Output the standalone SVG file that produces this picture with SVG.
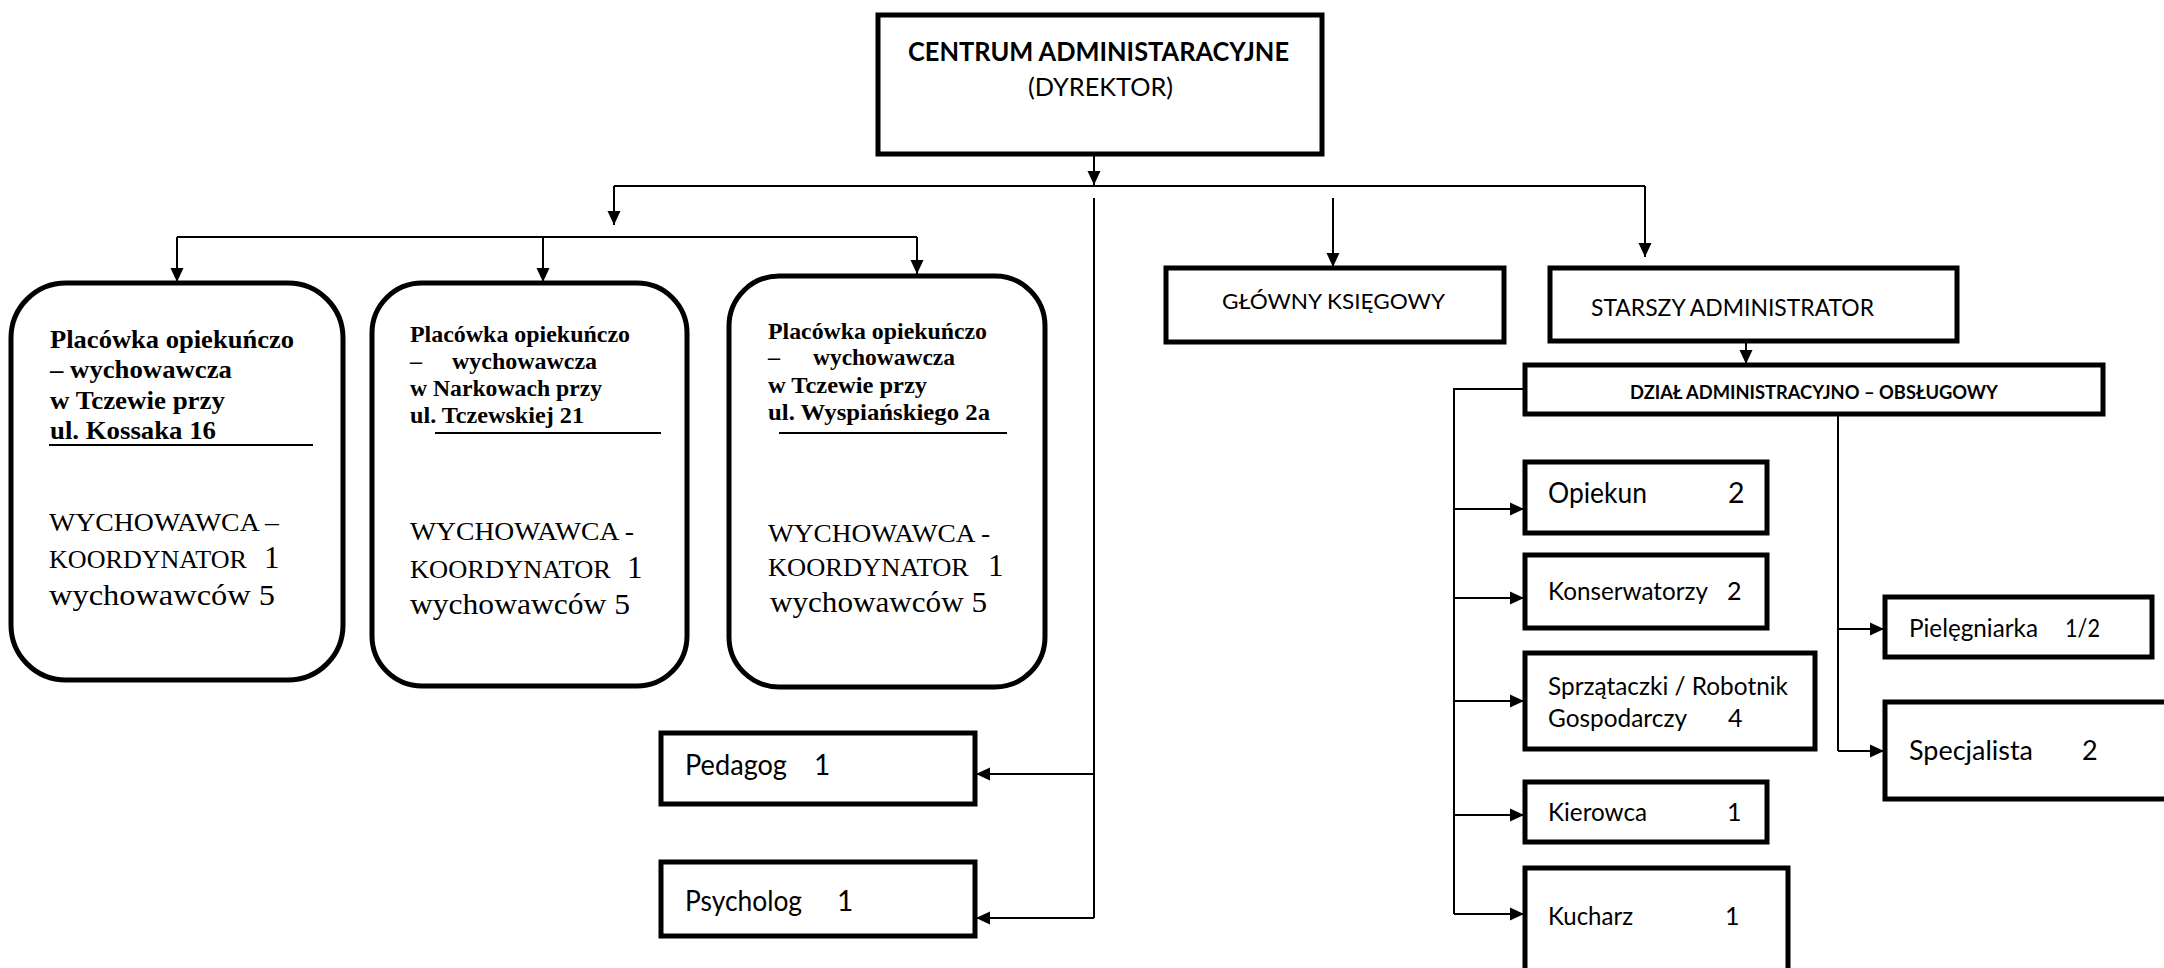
<svg xmlns="http://www.w3.org/2000/svg" width="2164" height="968" viewBox="0 0 2164 968">
<style>
.box{fill:#fff;stroke:#000;stroke-width:5}
.ln{fill:none;stroke:#000;stroke-width:2}
.ul{stroke:#000;stroke-width:2}
.s{font-family:Lato,"Liberation Sans",sans-serif;fill:#000}
.b{font-weight:bold}
.t{font-family:"Liberation Serif","Times New Roman",serif;fill:#000}
.hd{font-family:"Liberation Serif","Times New Roman",serif;font-weight:bold;fill:#000}
</style>
<defs>
<marker id="ah" markerUnits="userSpaceOnUse" markerWidth="14" markerHeight="14" refX="14" refY="7" orient="auto">
<path d="M0,0.5 L14,7 L0,13.5 z" fill="#000"/>
</marker>
</defs>
<rect width="2164" height="968" fill="#fff"/>

<g id="connectors">
<path class="ln" d="M1094,154 V185" marker-end="url(#ah)"/>
<path class="ln" d="M614,186 H1645"/>
<path class="ln" d="M614,186 V225" marker-end="url(#ah)"/>
<path class="ln" d="M177,237 H917"/>
<path class="ln" d="M177,237 V282" marker-end="url(#ah)"/>
<path class="ln" d="M543,237 V282" marker-end="url(#ah)"/>
<path class="ln" d="M917,237 V274" marker-end="url(#ah)"/>
<path class="ln" d="M1094,198 V918"/>
<path class="ln" d="M1094,774 H976" marker-end="url(#ah)"/>
<path class="ln" d="M1094,918 H976" marker-end="url(#ah)"/>
<path class="ln" d="M1333,198 V267" marker-end="url(#ah)"/>
<path class="ln" d="M1645,186 V257" marker-end="url(#ah)"/>
<path class="ln" d="M1746,342 V364" marker-end="url(#ah)"/>
<path class="ln" d="M1524,389 H1454 V914"/>
<path class="ln" d="M1454,509 H1524" marker-end="url(#ah)"/>
<path class="ln" d="M1454,598 H1524" marker-end="url(#ah)"/>
<path class="ln" d="M1454,701 H1524" marker-end="url(#ah)"/>
<path class="ln" d="M1454,815 H1524" marker-end="url(#ah)"/>
<path class="ln" d="M1454,914 H1524" marker-end="url(#ah)"/>
<path class="ln" d="M1838,415 V751"/>
<path class="ln" d="M1838,629 H1884" marker-end="url(#ah)"/>
<path class="ln" d="M1838,751 H1884" marker-end="url(#ah)"/>
</g>

<g id="centrum">
<rect class="box" x="878" y="15" width="444" height="139"/>
<text class="s b" x="908" y="61" font-size="26" textLength="381" lengthAdjust="spacingAndGlyphs">CENTRUM ADMINISTARACYJNE</text>
<text class="s" x="1028" y="96" font-size="24.5" textLength="145" lengthAdjust="spacingAndGlyphs">(DYREKTOR)</text>
</g>

<g id="placowka-kossaka">
<rect class="box" x="11" y="283" width="332" height="397" rx="55" ry="55"/>
<text class="hd" x="50" y="348" font-size="26" textLength="244" lengthAdjust="spacingAndGlyphs">Placówka opiekuńczo</text>
<text class="hd" x="50" y="378" font-size="26" textLength="182" lengthAdjust="spacingAndGlyphs">– wychowawcza</text>
<text class="hd" x="50" y="409" font-size="26" textLength="175" lengthAdjust="spacingAndGlyphs">w Tczewie przy</text>
<text class="hd" x="50" y="439" font-size="26" textLength="166" lengthAdjust="spacingAndGlyphs">ul. Kossaka 16</text>
<line class="ul" x1="49" y1="445" x2="313" y2="445"/>
<text class="t" x="49" y="531" font-size="26" textLength="230" lengthAdjust="spacingAndGlyphs">WYCHOWAWCA –</text>
<text class="t" x="49" y="568" font-size="26" textLength="198" lengthAdjust="spacingAndGlyphs">KOORDYNATOR</text>
<text class="t" x="264" y="568" font-size="31">1</text>
<text class="t" x="49" y="605" font-size="30" textLength="226" lengthAdjust="spacingAndGlyphs">wychowawców 5</text>
</g>

<g id="placowka-narkowy">
<rect class="box" x="372" y="283" width="315" height="403" rx="50" ry="50"/>
<text class="hd" x="410" y="342" font-size="24" textLength="220" lengthAdjust="spacingAndGlyphs">Placówka opiekuńczo</text>
<text class="hd" x="410" y="369" font-size="24">–</text>
<text class="hd" x="452" y="369" font-size="24" textLength="145" lengthAdjust="spacingAndGlyphs">wychowawcza</text>
<text class="hd" x="410" y="396" font-size="24" textLength="192" lengthAdjust="spacingAndGlyphs">w Narkowach przy</text>
<text class="hd" x="410" y="423" font-size="24" textLength="174" lengthAdjust="spacingAndGlyphs">ul. Tczewskiej 21</text>
<line class="ul" x1="435" y1="433" x2="661" y2="433"/>
<text class="t" x="410" y="540" font-size="26" textLength="224" lengthAdjust="spacingAndGlyphs">WYCHOWAWCA -</text>
<text class="t" x="410" y="578" font-size="26" textLength="201" lengthAdjust="spacingAndGlyphs">KOORDYNATOR</text>
<text class="t" x="627" y="578" font-size="31">1</text>
<text class="t" x="410" y="614" font-size="30" textLength="220" lengthAdjust="spacingAndGlyphs">wychowawców 5</text>
</g>

<g id="placowka-wyspianskiego">
<rect class="box" x="729" y="276" width="316" height="411" rx="50" ry="50"/>
<text class="hd" x="768" y="339" font-size="24" textLength="219" lengthAdjust="spacingAndGlyphs">Placówka opiekuńczo</text>
<text class="hd" x="768" y="365" font-size="24">–</text>
<text class="hd" x="813" y="365" font-size="24" textLength="142" lengthAdjust="spacingAndGlyphs">wychowawcza</text>
<text class="hd" x="768" y="393" font-size="24" textLength="159" lengthAdjust="spacingAndGlyphs">w Tczewie przy</text>
<text class="hd" x="768" y="420" font-size="24" textLength="222" lengthAdjust="spacingAndGlyphs">ul. Wyspiańskiego  2a</text>
<line class="ul" x1="779" y1="433" x2="1007" y2="433"/>
<text class="t" x="768" y="542" font-size="26" textLength="222" lengthAdjust="spacingAndGlyphs">WYCHOWAWCA -</text>
<text class="t" x="768" y="576" font-size="26" textLength="201" lengthAdjust="spacingAndGlyphs">KOORDYNATOR</text>
<text class="t" x="988" y="576" font-size="31">1</text>
<text class="t" x="770" y="612" font-size="30" textLength="217" lengthAdjust="spacingAndGlyphs">wychowawców 5</text>
</g>

<g id="pedagog">
<rect class="box" x="661" y="733" width="314" height="71"/>
<text class="s" x="685" y="775" font-size="28" textLength="102" lengthAdjust="spacingAndGlyphs">Pedagog</text>
<text class="s" x="814" y="775" font-size="28">1</text>
</g>

<g id="psycholog">
<rect class="box" x="661" y="862" width="314" height="74"/>
<text class="s" x="685" y="911" font-size="28" textLength="117" lengthAdjust="spacingAndGlyphs">Psycholog</text>
<text class="s" x="837" y="911" font-size="28">1</text>
</g>

<g id="glowny-ksiegowy">
<rect class="box" x="1166" y="268" width="338" height="74"/>
<text class="s" x="1222" y="309" font-size="22" textLength="223" lengthAdjust="spacingAndGlyphs">GŁÓWNY KSIĘGOWY</text>
</g>

<g id="starszy-administrator">
<rect class="box" x="1550" y="268" width="407" height="73"/>
<text class="s" x="1591" y="316" font-size="24" textLength="283" lengthAdjust="spacingAndGlyphs">STARSZY ADMINISTRATOR</text>
</g>

<g id="dzial">
<rect class="box" x="1525" y="365" width="578" height="49"/>
<text class="s b" x="1630" y="399" font-size="19.5" textLength="368" lengthAdjust="spacingAndGlyphs">DZIAŁ ADMINISTRACYJNO – OBSŁUGOWY</text>
</g>

<g id="opiekun">
<rect class="box" x="1525" y="462" width="242" height="71"/>
<text class="s" x="1548" y="503" font-size="28.5" textLength="99" lengthAdjust="spacingAndGlyphs">Opiekun</text>
<text class="s" x="1728" y="503" font-size="28.5">2</text>
</g>

<g id="konserwatorzy">
<rect class="box" x="1525" y="555" width="242" height="73"/>
<text class="s" x="1548" y="600" font-size="25" textLength="160" lengthAdjust="spacingAndGlyphs">Konserwatorzy</text>
<text class="s" x="1727" y="600" font-size="25">2</text>
</g>

<g id="sprzataczki">
<rect class="box" x="1525" y="653" width="290" height="96"/>
<text class="s" x="1548" y="695" font-size="25" textLength="240" lengthAdjust="spacingAndGlyphs">Sprzątaczki / Robotnik</text>
<text class="s" x="1548" y="727" font-size="25" textLength="139" lengthAdjust="spacingAndGlyphs">Gospodarczy</text>
<text class="s" x="1728" y="727" font-size="25">4</text>
</g>

<g id="kierowca">
<rect class="box" x="1525" y="782" width="242" height="60"/>
<text class="s" x="1548" y="821" font-size="25" textLength="99" lengthAdjust="spacingAndGlyphs">Kierowca</text>
<text class="s" x="1727" y="821" font-size="25">1</text>
</g>

<g id="kucharz">
<rect class="box" x="1525" y="868" width="263" height="120"/>
<text class="s" x="1548" y="925" font-size="25" textLength="85" lengthAdjust="spacingAndGlyphs">Kucharz</text>
<text class="s" x="1725" y="925" font-size="25">1</text>
</g>

<g id="pielegniarka">
<rect class="box" x="1885" y="597" width="267" height="60"/>
<text class="s" x="1909" y="637" font-size="24.5" textLength="129" lengthAdjust="spacingAndGlyphs">Pielęgniarka</text>
<text class="s" x="2065" y="637" font-size="24.5" textLength="35" lengthAdjust="spacingAndGlyphs">1/2</text>
</g>

<g id="specjalista">
<rect class="box" x="1885" y="702" width="300" height="97"/>
<text class="s" x="1909" y="760" font-size="27" textLength="124" lengthAdjust="spacingAndGlyphs">Specjalista</text>
<text class="s" x="2082" y="760" font-size="27">2</text>
</g>
</svg>
